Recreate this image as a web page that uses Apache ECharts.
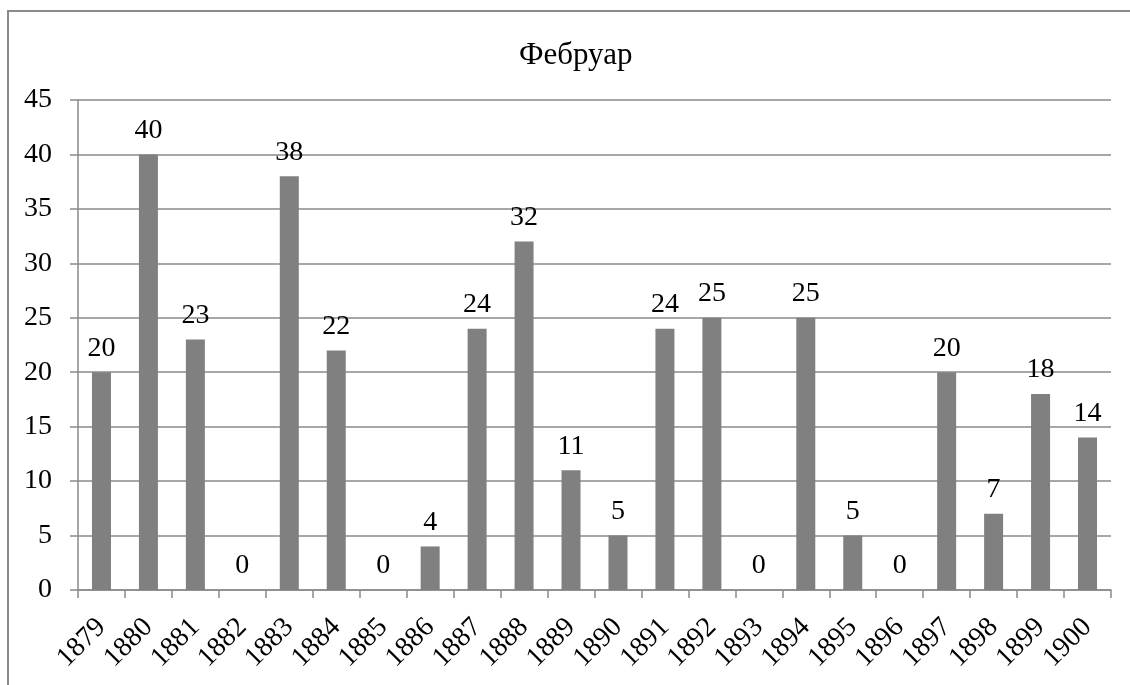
<!DOCTYPE html>
<html>
<head>
<meta charset="utf-8">
<script src="https://cdn.jsdelivr.net/npm/echarts@6/dist/echarts.min.js"></script>
<style>
html,body{margin:0;padding:0;background:#fff;}
#frame{position:absolute;left:7px;top:10px;width:1200px;height:800px;border-top:2px solid #8a8a8a;border-left:2px solid #8a8a8a;box-sizing:border-box;}
#chart{position:absolute;left:0;top:0;width:1130px;height:685px;}
</style>
</head>
<body>
<div id="frame"></div>
<div id="chart"></div>
<script>
const titleText = 'Фебруар';
const years = ['1879','1880','1881','1882','1883','1884','1885','1886','1887','1888','1889','1890','1891','1892','1893','1894','1895','1896','1897','1898','1899','1900'];
const values = [20,40,23,0,38,22,0,4,24,32,11,5,24,25,0,25,5,0,20,7,18,14];
const yMin = 0, yMax = 45, yStep = 5;

const font = 'Liberation Serif';
const chart = echarts.init(document.getElementById('chart'), null, {renderer:'canvas'});
chart.setOption({
  animation:false,
  backgroundColor:'transparent',
  title:{text:titleText,left:514,top:35,textStyle:{fontFamily:font,fontSize:31,fontWeight:'normal',color:'#000'}},
  grid:{left:78,right:19,top:100,bottom:95,containLabel:false},
  xAxis:{type:'category',data:years,boundaryGap:true,
    axisLine:{lineStyle:{color:'#8a8a8a',width:1.5}},
    axisTick:{show:true,length:8,alignWithLabel:false,lineStyle:{color:'#8a8a8a',width:1.5}},
    axisLabel:{rotate:45,interval:0,margin:33,fontFamily:font,fontSize:28,color:'#000'}},
  yAxis:{type:'value',min:yMin,max:yMax,interval:yStep,
    axisLine:{show:true,lineStyle:{color:'#8a8a8a',width:1.5}},
    axisTick:{show:true,length:8,lineStyle:{color:'#8a8a8a',width:1.5}},
    splitLine:{show:true,lineStyle:{color:'#8a8a8a',width:1.5}},
    axisLabel:{margin:26,fontFamily:font,fontSize:28,color:'#000'}},
  series:[{type:'bar',data:values,barWidth:19,itemStyle:{color:'#808080'},
    label:{show:true,position:'top',distance:10,fontFamily:font,fontSize:28,color:'#000'}}]
});
</script>
</body>
</html>
